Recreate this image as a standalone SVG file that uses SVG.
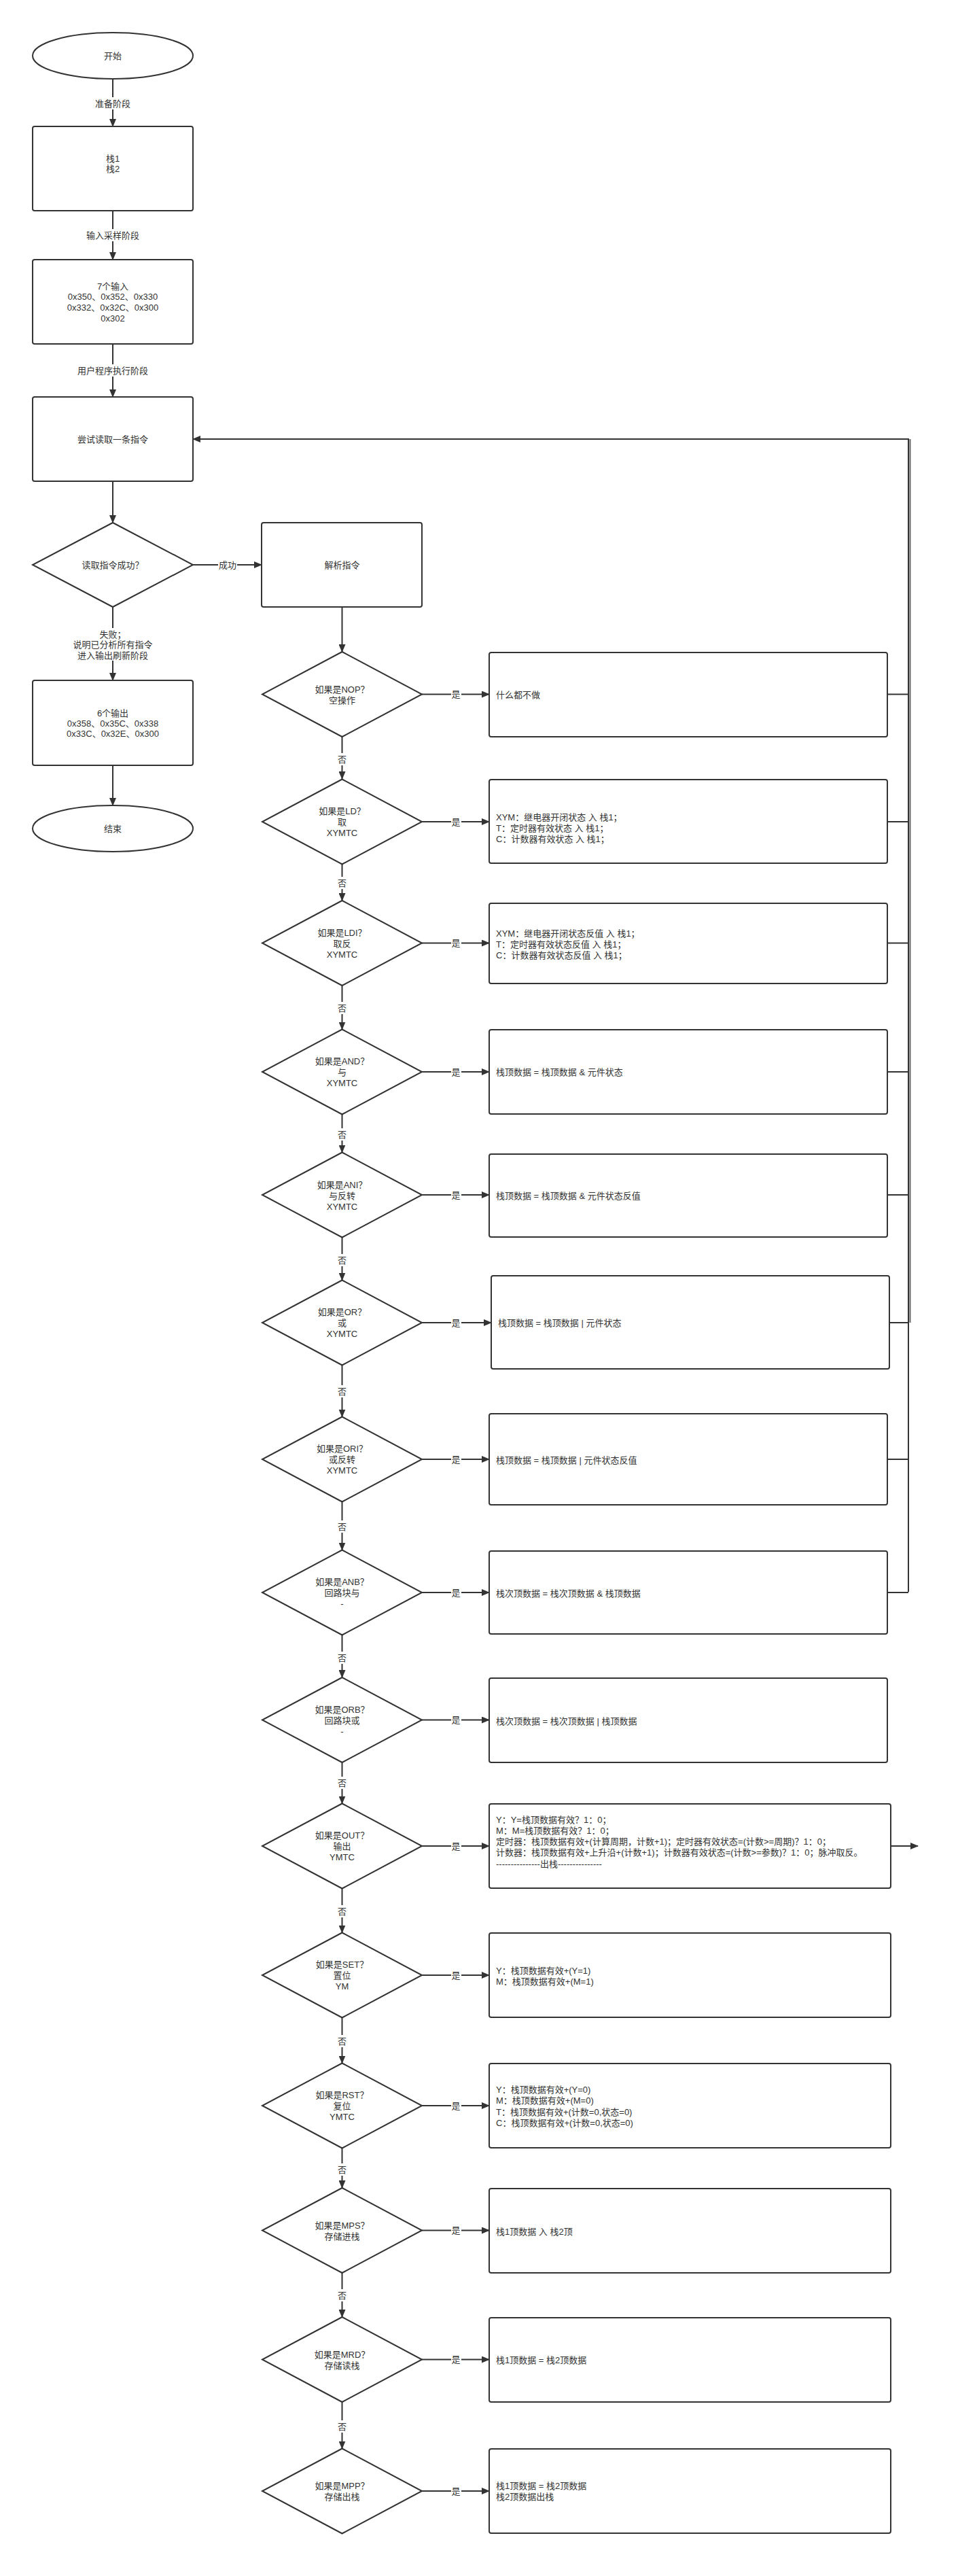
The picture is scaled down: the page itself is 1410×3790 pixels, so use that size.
<svg xmlns="http://www.w3.org/2000/svg" width="1410" height="3790" viewBox="0 0 1410 3790">
<style>
.n{fill:#fff;stroke:#333;stroke-width:2}
.c{fill:none;stroke:#333;stroke-width:2}
.bg{fill:#fff;stroke:none}
text{font-family:"Liberation Sans","Noto Sans CJK SC",sans-serif;font-size:13px;fill:#333;dominant-baseline:central}
.m{text-anchor:middle}
</style>
<defs>
<marker id="a" markerWidth="12" markerHeight="10" refX="11" refY="5" orient="auto" markerUnits="userSpaceOnUse"><path d="M0,0 L12,5 L0,10 Z" fill="#333"/></marker>
</defs>
<rect width="1410" height="3790" fill="#fff"/>

<g id="connectors">
<!-- left column -->
<path class="c" d="M166,116 V186" marker-end="url(#a)"/>
<path class="c" d="M166,310 V382" marker-end="url(#a)"/>
<path class="c" d="M166,506 V584" marker-end="url(#a)"/>
<path class="c" d="M166,708 V769" marker-end="url(#a)"/>
<path class="c" d="M166,893 V1001" marker-end="url(#a)"/>
<path class="c" d="M166,1126 V1185" marker-end="url(#a)"/>
<path class="c" d="M284,831 H385" marker-end="url(#a)"/>
<path class="c" d="M503.5,893 V959" marker-end="url(#a)"/>
<!-- loop back -->
<path class="c" d="M1337,2342 V646 H284" marker-end="url(#a)"/>
<path class="c" d="M1339.5,646 V1946" style="stroke:#666"/>
<!-- yes arrows -->
<path class="c" d="M621,1021.5 H720" marker-end="url(#a)"/>
<path class="c" d="M621,1209 H720" marker-end="url(#a)"/>
<path class="c" d="M621,1387.5 H720" marker-end="url(#a)"/>
<path class="c" d="M621,1577 H720" marker-end="url(#a)"/>
<path class="c" d="M621,1758 H720" marker-end="url(#a)"/>
<path class="c" d="M621,1946 H723" marker-end="url(#a)"/>
<path class="c" d="M621,2147 H720" marker-end="url(#a)"/>
<path class="c" d="M621,2343 H720" marker-end="url(#a)"/>
<path class="c" d="M621,2530.5 H720" marker-end="url(#a)"/>
<path class="c" d="M621,2716 H720" marker-end="url(#a)"/>
<path class="c" d="M621,2906 H720" marker-end="url(#a)"/>
<path class="c" d="M621,3098 H720" marker-end="url(#a)"/>
<path class="c" d="M621,3281.5 H720" marker-end="url(#a)"/>
<path class="c" d="M621,3471.5 H720" marker-end="url(#a)"/>
<path class="c" d="M621,3665 H720" marker-end="url(#a)"/>
<!-- no arrows -->
<path class="c" d="M503.5,1084 V1146" marker-end="url(#a)"/>
<path class="c" d="M503.5,1271.5 V1325" marker-end="url(#a)"/>
<path class="c" d="M503.5,1450 V1514.5" marker-end="url(#a)"/>
<path class="c" d="M503.5,1639.5 V1695.5" marker-end="url(#a)"/>
<path class="c" d="M503.5,1820.5 V1883.5" marker-end="url(#a)"/>
<path class="c" d="M503.5,2008.5 V2084.5" marker-end="url(#a)"/>
<path class="c" d="M503.5,2209.5 V2280.5" marker-end="url(#a)"/>
<path class="c" d="M503.5,2405.5 V2468" marker-end="url(#a)"/>
<path class="c" d="M503.5,2593 V2653.5" marker-end="url(#a)"/>
<path class="c" d="M503.5,2778.5 V2843.5" marker-end="url(#a)"/>
<path class="c" d="M503.5,2968.5 V3035.5" marker-end="url(#a)"/>
<path class="c" d="M503.5,3160.5 V3219" marker-end="url(#a)"/>
<path class="c" d="M503.5,3344 V3409" marker-end="url(#a)"/>
<path class="c" d="M503.5,3534 V3602.5" marker-end="url(#a)"/>
<!-- box to loop line -->
<path class="c" d="M1306,1021.5 H1337"/>
<path class="c" d="M1306,1209 H1337"/>
<path class="c" d="M1306,1387.5 H1337"/>
<path class="c" d="M1306,1577 H1337"/>
<path class="c" d="M1306,1758 H1337"/>
<path class="c" d="M1309,1946 H1337"/>
<path class="c" d="M1306,2147 H1337"/>
<path class="c" d="M1306,2343 H1337"/>
<!-- OUT dangling arrow -->
<path class="c" d="M1311,2716 H1351" marker-end="url(#a)"/>

<!-- labels -->
<rect class="bg" x="139" y="143" width="54" height="18"/><text class="m" x="166" y="152">准备阶段</text>
<rect class="bg" x="126" y="337" width="80" height="18"/><text class="m" x="166" y="346">输入采样阶段</text>
<rect class="bg" x="113" y="536" width="106" height="18"/><text class="m" x="166" y="545">用户程序执行阶段</text>
<rect class="bg" x="106" y="924" width="120" height="48"/>
<text class="m" x="166" y="933">失败；</text>
<text class="m" x="166" y="948">说明已分析所有指令</text>
<text class="m" x="166" y="964">进入输出刷新阶段</text>
<rect class="bg" x="321" y="822" width="28" height="18"/><text class="m" x="335" y="831">成功</text>
<g>
<rect class="bg" x="664" y="1012.5" width="15" height="18"/><text class="m" x="671" y="1021.5">是</text>
<rect class="bg" x="664" y="1200" width="15" height="18"/><text class="m" x="671" y="1209">是</text>
<rect class="bg" x="664" y="1378.5" width="15" height="18"/><text class="m" x="671" y="1387.5">是</text>
<rect class="bg" x="664" y="1568" width="15" height="18"/><text class="m" x="671" y="1577">是</text>
<rect class="bg" x="664" y="1749" width="15" height="18"/><text class="m" x="671" y="1758">是</text>
<rect class="bg" x="664" y="1937" width="15" height="18"/><text class="m" x="671" y="1946">是</text>
<rect class="bg" x="664" y="2138" width="15" height="18"/><text class="m" x="671" y="2147">是</text>
<rect class="bg" x="664" y="2334" width="15" height="18"/><text class="m" x="671" y="2343">是</text>
<rect class="bg" x="664" y="2521.5" width="15" height="18"/><text class="m" x="671" y="2530.5">是</text>
<rect class="bg" x="664" y="2707" width="15" height="18"/><text class="m" x="671" y="2716">是</text>
<rect class="bg" x="664" y="2897" width="15" height="18"/><text class="m" x="671" y="2906">是</text>
<rect class="bg" x="664" y="3089" width="15" height="18"/><text class="m" x="671" y="3098">是</text>
<rect class="bg" x="664" y="3272.5" width="15" height="18"/><text class="m" x="671" y="3281.5">是</text>
<rect class="bg" x="664" y="3462.5" width="15" height="18"/><text class="m" x="671" y="3471.5">是</text>
<rect class="bg" x="664" y="3656" width="15" height="18"/><text class="m" x="671" y="3665">是</text>
</g>
<g>
<rect class="bg" x="496" y="1108" width="15" height="18"/><text class="m" x="503.5" y="1117">否</text>
<rect class="bg" x="496" y="1290" width="15" height="18"/><text class="m" x="503.5" y="1299">否</text>
<rect class="bg" x="496" y="1474" width="15" height="18"/><text class="m" x="503.5" y="1483">否</text>
<rect class="bg" x="496" y="1660" width="15" height="18"/><text class="m" x="503.5" y="1669">否</text>
<rect class="bg" x="496" y="1845" width="15" height="18"/><text class="m" x="503.5" y="1854">否</text>
<rect class="bg" x="496" y="2038" width="15" height="18"/><text class="m" x="503.5" y="2047">否</text>
<rect class="bg" x="496" y="2237" width="15" height="18"/><text class="m" x="503.5" y="2246">否</text>
<rect class="bg" x="496" y="2430" width="15" height="18"/><text class="m" x="503.5" y="2439">否</text>
<rect class="bg" x="496" y="2614" width="15" height="18"/><text class="m" x="503.5" y="2623">否</text>
<rect class="bg" x="496" y="2803" width="15" height="18"/><text class="m" x="503.5" y="2812">否</text>
<rect class="bg" x="496" y="2994" width="15" height="18"/><text class="m" x="503.5" y="3003">否</text>
<rect class="bg" x="496" y="3183" width="15" height="18"/><text class="m" x="503.5" y="3192">否</text>
<rect class="bg" x="496" y="3368" width="15" height="18"/><text class="m" x="503.5" y="3377">否</text>
<rect class="bg" x="496" y="3561" width="15" height="18"/><text class="m" x="503.5" y="3570">否</text>
</g>
</g>

<!-- left column nodes -->
<g id="start"><ellipse class="n" cx="166" cy="82" rx="118" ry="34"/><text class="m" x="166" y="82">开始</text></g>
<g id="stacks"><rect class="n" x="48" y="186" width="236" height="124" rx="3"/><text class="m" x="166" y="233">栈1</text><text class="m" x="166" y="248">栈2</text></g>
<g id="inputs"><rect class="n" x="48" y="382" width="236" height="124" rx="3"/>
<text class="m" x="166" y="421">7个输入</text><text class="m" x="166" y="436">0x350、0x352、0x330</text><text class="m" x="166" y="452">0x332、0x32C、0x300</text><text class="m" x="166" y="468">0x302</text></g>
<g id="read"><rect class="n" x="48" y="584" width="236" height="124" rx="3"/><text class="m" x="166" y="646">尝试读取一条指令</text></g>
<g id="readok"><polygon class="n" points="166,769 284,831 166,893 48,831"/><text class="m" x="166" y="831">读取指令成功？</text></g>
<g id="outputs"><rect class="n" x="48" y="1001" width="236" height="125" rx="3"/>
<text class="m" x="166" y="1049">6个输出</text><text class="m" x="166" y="1064">0x358、0x35C、0x338</text><text class="m" x="166" y="1079">0x33C、0x32E、0x300</text></g>
<g id="end"><ellipse class="n" cx="166" cy="1219" rx="118" ry="34"/><text class="m" x="166" y="1219">结束</text></g>
<g id="parse"><rect class="n" x="385" y="769" width="236" height="124" rx="3"/><text class="m" x="503.5" y="831">解析指令</text></g>

<!-- decision diamonds -->
<g id="d-nop"><polygon class="n" points="503.5,959 621,1021.5 503.5,1084 386,1021.5"/><text class="m" x="503.5" y="1014">如果是NOP？</text><text class="m" x="503.5" y="1030">空操作</text></g>
<g id="d-ld"><polygon class="n" points="503.5,1146.5 621,1209 503.5,1271.5 386,1209"/><text class="m" x="503.5" y="1193">如果是LD？</text><text class="m" x="503.5" y="1209">取</text><text class="m" x="503.5" y="1225">XYMTC</text></g>
<g id="d-ldi"><polygon class="n" points="503.5,1325 621,1387.5 503.5,1450 386,1387.5"/><text class="m" x="503.5" y="1372">如果是LDI？</text><text class="m" x="503.5" y="1388">取反</text><text class="m" x="503.5" y="1404">XYMTC</text></g>
<g id="d-and"><polygon class="n" points="503.5,1514.5 621,1577 503.5,1639.5 386,1577"/><text class="m" x="503.5" y="1561">如果是AND？</text><text class="m" x="503.5" y="1577">与</text><text class="m" x="503.5" y="1593">XYMTC</text></g>
<g id="d-ani"><polygon class="n" points="503.5,1695.5 621,1758 503.5,1820.5 386,1758"/><text class="m" x="503.5" y="1743">如果是ANI？</text><text class="m" x="503.5" y="1759">与反转</text><text class="m" x="503.5" y="1775">XYMTC</text></g>
<g id="d-or"><polygon class="n" points="503.5,1883.5 621,1946 503.5,2008.5 386,1946"/><text class="m" x="503.5" y="1930">如果是OR？</text><text class="m" x="503.5" y="1946">或</text><text class="m" x="503.5" y="1962">XYMTC</text></g>
<g id="d-ori"><polygon class="n" points="503.5,2084.5 621,2147 503.5,2209.5 386,2147"/><text class="m" x="503.5" y="2131">如果是ORI？</text><text class="m" x="503.5" y="2147">或反转</text><text class="m" x="503.5" y="2163">XYMTC</text></g>
<g id="d-anb"><polygon class="n" points="503.5,2280.5 621,2343 503.5,2405.5 386,2343"/><text class="m" x="503.5" y="2327">如果是ANB？</text><text class="m" x="503.5" y="2343">回路块与</text><text class="m" x="503.5" y="2359">-</text></g>
<g id="d-orb"><polygon class="n" points="503.5,2468 621,2530.5 503.5,2593 386,2530.5"/><text class="m" x="503.5" y="2515">如果是ORB？</text><text class="m" x="503.5" y="2531">回路块或</text><text class="m" x="503.5" y="2547">-</text></g>
<g id="d-out"><polygon class="n" points="503.5,2653.5 621,2716 503.5,2778.5 386,2716"/><text class="m" x="503.5" y="2700">如果是OUT？</text><text class="m" x="503.5" y="2716">输出</text><text class="m" x="503.5" y="2732">YMTC</text></g>
<g id="d-set"><polygon class="n" points="503.5,2843.5 621,2906 503.5,2968.5 386,2906"/><text class="m" x="503.5" y="2890">如果是SET？</text><text class="m" x="503.5" y="2906">置位</text><text class="m" x="503.5" y="2922">YM</text></g>
<g id="d-rst"><polygon class="n" points="503.5,3035.5 621,3098 503.5,3160.5 386,3098"/><text class="m" x="503.5" y="3082">如果是RST？</text><text class="m" x="503.5" y="3098">复位</text><text class="m" x="503.5" y="3114">YMTC</text></g>
<g id="d-mps"><polygon class="n" points="503.5,3219 621,3281.5 503.5,3344 386,3281.5"/><text class="m" x="503.5" y="3274">如果是MPS？</text><text class="m" x="503.5" y="3290">存储进栈</text></g>
<g id="d-mrd"><polygon class="n" points="503.5,3409 621,3471.5 503.5,3534 386,3471.5"/><text class="m" x="503.5" y="3464">如果是MRD？</text><text class="m" x="503.5" y="3480">存储读栈</text></g>
<g id="d-mpp"><polygon class="n" points="503.5,3602.5 621,3665 503.5,3727.5 386,3665"/><text class="m" x="503.5" y="3657">如果是MPP？</text><text class="m" x="503.5" y="3673">存储出栈</text></g>

<!-- action boxes -->
<g id="b-nop"><rect class="n" x="720" y="960" width="586" height="124" rx="3"/><text x="730" y="1022">什么都不做</text></g>
<g id="b-ld"><rect class="n" x="720" y="1147" width="586" height="123" rx="3"/>
<text x="730" y="1202">XYM：继电器开闭状态 入 栈1；</text><text x="730" y="1218">T：定时器有效状态 入 栈1；</text><text x="730" y="1234">C：计数器有效状态 入 栈1；</text></g>
<g id="b-ldi"><rect class="n" x="720" y="1329" width="586" height="118" rx="3"/>
<text x="730" y="1373">XYM：继电器开闭状态反值 入 栈1；</text><text x="730" y="1389">T：定时器有效状态反值 入 栈1；</text><text x="730" y="1405">C：计数器有效状态反值 入 栈1；</text></g>
<g id="b-and"><rect class="n" x="720" y="1515" width="586" height="124" rx="3"/><text x="730" y="1577">栈顶数据 = 栈顶数据 &amp; 元件状态</text></g>
<g id="b-ani"><rect class="n" x="720" y="1698" width="586" height="122" rx="3"/><text x="730" y="1759">栈顶数据 = 栈顶数据 &amp; 元件状态反值</text></g>
<g id="b-or"><rect class="n" x="723" y="1877" width="586" height="137" rx="3"/><text x="733" y="1946">栈顶数据 = 栈顶数据 | 元件状态</text></g>
<g id="b-ori"><rect class="n" x="720" y="2080" width="586" height="134" rx="3"/><text x="730" y="2148">栈顶数据 = 栈顶数据 | 元件状态反值</text></g>
<g id="b-anb"><rect class="n" x="720" y="2282" width="586" height="122" rx="3"/><text x="730" y="2344">栈次顶数据 = 栈次顶数据 &amp; 栈顶数据</text></g>
<g id="b-orb"><rect class="n" x="720" y="2469" width="586" height="124" rx="3"/><text x="730" y="2532">栈次顶数据 = 栈次顶数据 | 栈顶数据</text></g>
<g id="b-out"><rect class="n" x="720" y="2654" width="591" height="124" rx="3"/>
<text x="730" y="2677">Y：Y=栈顶数据有效？1：0；</text>
<text x="730" y="2693">M：M=栈顶数据有效？1：0；</text>
<text x="730" y="2709">定时器：栈顶数据有效+(计算周期，计数+1)；定时器有效状态=(计数&gt;=周期)？1：0；</text>
<text x="730" y="2725">计数器：栈顶数据有效+上升沿+(计数+1)；计数器有效状态=(计数&gt;=参数)？1：0；脉冲取反。</text>
<text x="730" y="2742">---------------出栈---------------</text></g>
<g id="b-set"><rect class="n" x="720" y="2844" width="591" height="124" rx="3"/>
<text x="730" y="2899">Y：栈顶数据有效+(Y=1)</text><text x="730" y="2915">M：栈顶数据有效+(M=1)</text></g>
<g id="b-rst"><rect class="n" x="720" y="3036" width="591" height="124" rx="3"/>
<text x="730" y="3074">Y：栈顶数据有效+(Y=0)</text><text x="730" y="3090">M：栈顶数据有效+(M=0)</text><text x="730" y="3107">T：栈顶数据有效+(计数=0,状态=0)</text><text x="730" y="3123">C：栈顶数据有效+(计数=0,状态=0)</text></g>
<g id="b-mps"><rect class="n" x="720" y="3220" width="591" height="124" rx="3"/><text x="730" y="3283">栈1顶数据 入 栈2顶</text></g>
<g id="b-mrd"><rect class="n" x="720" y="3410" width="591" height="124" rx="3"/><text x="730" y="3472">栈1顶数据 = 栈2顶数据</text></g>
<g id="b-mpp"><rect class="n" x="720" y="3603" width="591" height="124" rx="3"/><text x="730" y="3657">栈1顶数据 = 栈2顶数据</text><text x="730" y="3673">栈2顶数据出栈</text></g>
</svg>
